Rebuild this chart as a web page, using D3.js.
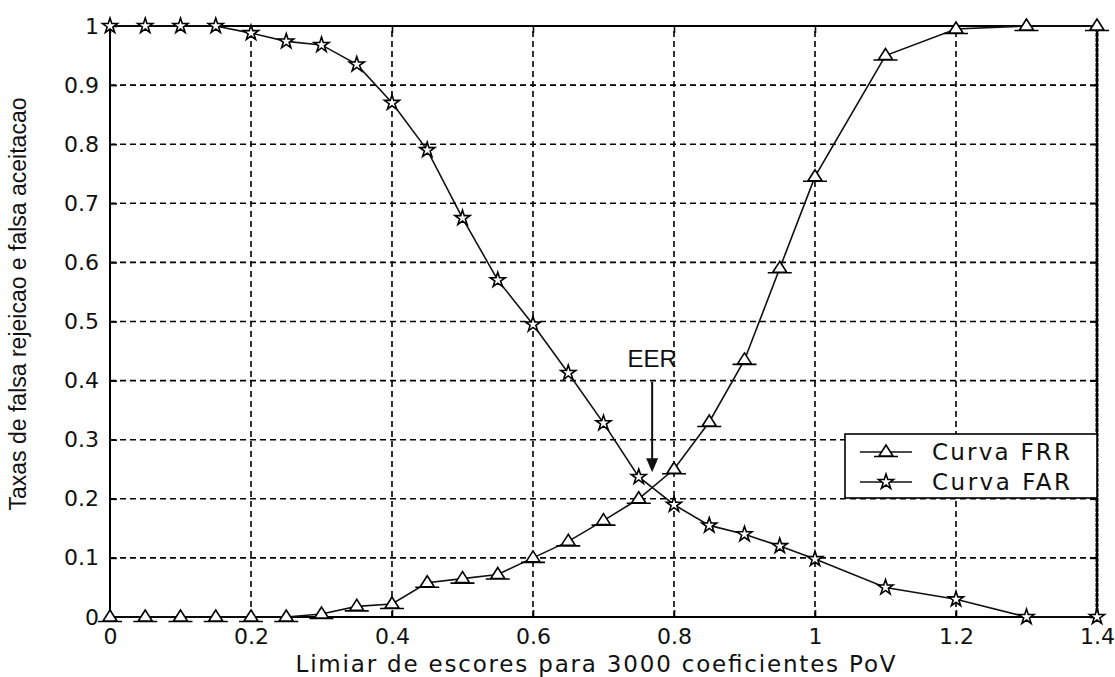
<!DOCTYPE html>
<html>
<head>
<meta charset="utf-8">
<script src="https://cdn.jsdelivr.net/npm/d3@7"></script>
<style>
  body { margin: 0; background: #fff; }
  svg { display: block; }
</style>
</head>
<body>
<div id="chart"></div>
<script>
// thresholds
const frrX = [0, 0.05, 0.1, 0.15, 0.2, 0.25, 0.3, 0.35, 0.4, 0.45, 0.5, 0.55, 0.6, 0.65, 0.7, 0.75, 0.8, 0.85, 0.9, 0.95, 1.0, 1.1, 1.2, 1.3, 1.4];
const frrY = [0, 0, 0, 0, 0, 0, 0.005, 0.018, 0.022, 0.058, 0.065, 0.072, 0.1, 0.128, 0.163, 0.2, 0.25, 0.33, 0.435, 0.59, 0.745, 0.95, 0.995, 1, 1];
const farX = frrX;
const farY = [1, 1, 1, 1, 0.988, 0.974, 0.968, 0.935, 0.87, 0.79, 0.675, 0.57, 0.495, 0.413, 0.328, 0.237, 0.19, 0.155, 0.14, 0.12, 0.098, 0.05, 0.03, 0, 0];
const xTicks = [0, 0.2, 0.4, 0.6, 0.8, 1, 1.2, 1.4];
const yTicks = [0, 0.1, 0.2, 0.3, 0.4, 0.5, 0.6, 0.7, 0.8, 0.9, 1];
const seriesNames = ["Curva FRR", "Curva FAR"];
const eer = { x: 0.769, top: 0.398, tip: 0.245, label: "EER", labelY: 0.423 };

const width = 1115, height = 677;
const margin = { left: 110, right: 18, top: 26, bottom: 60 };

const svg = d3.select("#chart").append("svg")
    .attr("width", width)
    .attr("height", height);

svg.append("rect").attr("width", width).attr("height", height).attr("fill", "#fff");

const x = d3.scaleLinear().domain([0, 1.4]).range([margin.left, width - margin.right]);
const y = d3.scaleLinear().domain([0, 1]).range([height - margin.bottom, margin.top]);

const tickFont = "'DejaVu Sans', sans-serif";
const labelFont = "'Liberation Sans', Arial, sans-serif";

// grid
const grid = svg.append("g").attr("stroke", "#000").attr("stroke-width", 1.6)
    .attr("stroke-dasharray", "6,4");
grid.selectAll(".vg").data(xTicks.slice(1, -1)).enter().append("line")
    .attr("x1", d => x(d)).attr("x2", d => x(d))
    .attr("y1", y(0)).attr("y2", y(1));
grid.selectAll(".hg").data(yTicks.slice(1, -1)).enter().append("line")
    .attr("y1", d => y(d)).attr("y2", d => y(d))
    .attr("x1", x(0)).attr("x2", x(1.4));

// axes (ticks inward)
svg.append("g").attr("transform", `translate(0,${y(0)})`)
    .call(d3.axisBottom(x).tickValues(xTicks).tickSizeInner(-7).tickSizeOuter(0).tickPadding(11)
        .tickFormat(d3.format("")))
    .call(g => g.select(".domain").remove());
svg.append("g").attr("transform", `translate(0,${y(1)})`)
    .call(d3.axisTop(x).tickValues(xTicks).tickSizeInner(-7).tickSizeOuter(0).tickFormat(""))
    .call(g => g.select(".domain").remove());
svg.append("g").attr("transform", `translate(${x(0)},0)`)
    .call(d3.axisLeft(y).tickValues(yTicks).tickSizeInner(-7).tickSizeOuter(0).tickPadding(11)
        .tickFormat(d3.format("")))
    .call(g => g.select(".domain").remove());
svg.append("g").attr("transform", `translate(${x(1.4)},0)`)
    .call(d3.axisRight(y).tickValues(yTicks).tickSizeInner(-7).tickSizeOuter(0).tickFormat(""))
    .call(g => g.select(".domain").remove());

svg.selectAll(".tick line").attr("stroke", "#000").attr("stroke-width", 1.6);
svg.selectAll(".tick text")
    .attr("fill", "#111")
    .style("font-family", tickFont)
    .style("font-size", "22px");

// frame
svg.append("rect")
    .attr("x", x(0)).attr("y", y(1))
    .attr("width", x(1.4) - x(0)).attr("height", y(0) - y(1))
    .attr("fill", "none").attr("stroke", "#000").attr("stroke-width", 2);
svg.append("line")
    .attr("x1", x(1.4)).attr("x2", x(1.4)).attr("y1", y(0)).attr("y2", y(1))
    .attr("stroke", "#000").attr("stroke-width", 3).attr("stroke-dasharray", "4,1");

// axis labels
svg.append("text")
    .attr("x", (x(0) + x(1.4)) / 2 - 8).attr("y", 672)
    .attr("text-anchor", "middle")
    .attr("textLength", 600).attr("lengthAdjust", "spacing")
    .style("font-family", tickFont).style("font-size", "23px").attr("fill", "#111")
    .text("Limiar de escores para 3000 coeficientes PoV");

svg.append("text")
    .attr("transform", "translate(26,304) rotate(-90)")
    .attr("text-anchor", "middle")
    .style("font-family", labelFont).style("font-size", "23px").attr("fill", "#111")
    .text("Taxas de falsa rejeicao e falsa aceitacao");

// markers
const triPath = "M0,-7L-7,4L7,4Z M-12,4.5H12";
const starPath = d3.symbol().type(d3.symbolStar).size(70)();

const frr = frrX.map((d, i) => ({ x: d, y: frrY[i] }));
const far = farX.map((d, i) => ({ x: d, y: farY[i] }));

const line = d3.line().x(d => x(d.x)).y(d => y(d.y));

svg.append("path").datum(frr).attr("d", line)
    .attr("fill", "none").attr("stroke", "#111").attr("stroke-width", 1.6);
svg.append("path").datum(far).attr("d", line)
    .attr("fill", "none").attr("stroke", "#111").attr("stroke-width", 1.6);

svg.selectAll(".tri").data(frr).enter().append("path")
    .attr("transform", d => `translate(${x(d.x)},${y(d.y)})`)
    .attr("d", triPath)
    .attr("fill", "#fff").attr("stroke", "#000").attr("stroke-width", 1.6);
svg.selectAll(".star").data(far).enter().append("path")
    .attr("transform", d => `translate(${x(d.x)},${y(d.y)})`)
    .attr("d", starPath)
    .attr("fill", "#fff").attr("stroke", "#000").attr("stroke-width", 1.6);

// EER annotation
svg.append("text")
    .attr("x", x(eer.x)).attr("y", y(eer.labelY))
    .attr("text-anchor", "middle")
    .style("font-family", labelFont).style("font-size", "24px").attr("fill", "#111")
    .text(eer.label);
svg.append("line")
    .attr("x1", x(eer.x)).attr("x2", x(eer.x))
    .attr("y1", y(eer.top)).attr("y2", y(eer.tip) - 12)
    .attr("stroke", "#111").attr("stroke-width", 2);
svg.append("path")
    .attr("d", `M${x(eer.x) - 6},${y(eer.tip) - 14}L${x(eer.x) + 6},${y(eer.tip) - 14}L${x(eer.x)},${y(eer.tip)}Z`)
    .attr("fill", "#111");

// legend
const legend = svg.append("g").attr("transform", "translate(845,434)");
legend.append("rect")
    .attr("width", x(1.4) - 845).attr("height", 64)
    .attr("fill", "#fff").attr("stroke", "#000").attr("stroke-width", 1.6);
const rows = legend.selectAll(".row").data(seriesNames).enter().append("g")
    .attr("transform", (d, i) => `translate(0,${18 + i * 30})`);
rows.append("line").attr("x1", 15).attr("x2", 67)
    .attr("stroke", "#111").attr("stroke-width", 1.6);
rows.append("path")
    .attr("transform", "translate(41,0)")
    .attr("d", (d, i) => i === 0 ? triPath : starPath)
    .attr("fill", "#fff").attr("stroke", "#000").attr("stroke-width", 1.6);
rows.append("text")
    .attr("x", 87).attr("y", 8)
    .attr("textLength", 138).attr("lengthAdjust", "spacing")
    .style("font-family", tickFont).style("font-size", "23px").attr("fill", "#111")
    .text(d => d);
</script>
</body>
</html>
